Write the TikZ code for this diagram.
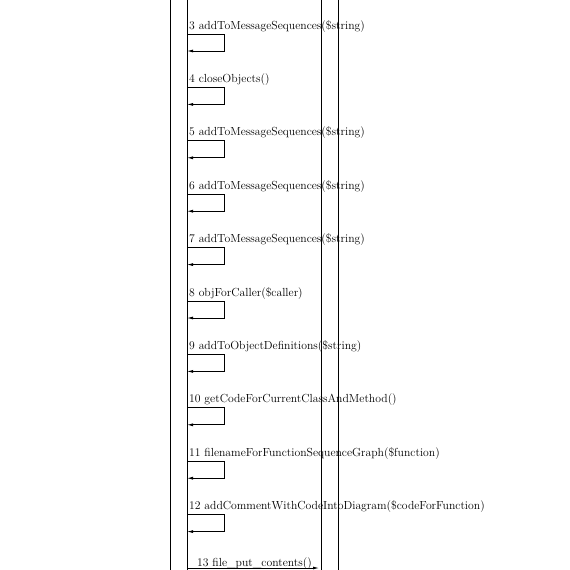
\documentclass[tikz,border=0pt]{standalone}
\usetikzlibrary{arrows.meta}
\begin{document}
\begin{tikzpicture}[x=1pt,y=-1pt,
  lifeline/.style={line width=0.8pt},
  msgline/.style={line width=0.8pt},
  msgtip/.style={-{Latex[length=6pt,width=3pt]}},
  msglabel/.style={inner sep=0pt,anchor=base west,font=\fontsize{11.7}{14}\selectfont},
  calllabel/.style={inner sep=0pt,anchor=base,font=\fontsize{11.7}{14}\selectfont}]
\useasboundingbox (0,0) rectangle (570,570);
\begin{scope}
\clip (0,0) rectangle (570,570);
% lifelines
\foreach \n/\x in {la/170,lb/187,lc/321,ld/338}{
  \coordinate (\n top) at (\x,-5);
  \coordinate (\n bot) at (\x,575);
  \draw[lifeline] (\n top) -- (\n bot);
}
% tail of the previous self call
\coordinate (s2a) at (187,-19.4);
\coordinate (s2b) at (224,-19.4);
\coordinate (s2c) at (224,-2.4);
\coordinate (s2d) at (187,-2.4);
\draw[msgline,msgtip] (s2a) -- (s2b) -- (s2c) -- (s2d);
% self calls
\foreach \i/\txt in {
  3/{3 addToMessageSequences(\$string)},
  4/{4 closeObjects()},
  5/{5 addToMessageSequences(\$string)},
  6/{6 addToMessageSequences(\$string)},
  7/{7 addToMessageSequences(\$string)},
  8/{8 objForCaller(\$caller)},
  9/{9 addToObjectDefinitions(\$string)},
  10/{10 getCodeForCurrentClassAndMethod()},
  11/{11 filenameForFunctionSequenceGraph(\$function)},
  12/{12 addCommentWithCodeIntoDiagram(\$codeForFunction)}}{
  \pgfmathsetmacro{\yt}{34+53.4*(\i-3)}
  \pgfmathsetmacro{\yb}{\yt+17}
  \node[msglabel] (m\i) at (189,\yt-5) {\txt};
  \coordinate (s\i a) at (187,\yt);
  \coordinate (s\i b) at (224,\yt);
  \coordinate (s\i c) at (224,\yb);
  \coordinate (s\i d) at (187,\yb);
  \draw[msgline,msgtip] (s\i a) -- (s\i b) -- (s\i c) -- (s\i d);
}
% call to the next object
\coordinate (c13a) at (187,568);
\coordinate (c13b) at (319,568);
\node[calllabel] (m13) at (254.5,566) {13 file\_put\_contents()};
\draw[msgline,msgtip] (c13a) -- (c13b);
\end{scope}
\end{tikzpicture}
\end{document}
